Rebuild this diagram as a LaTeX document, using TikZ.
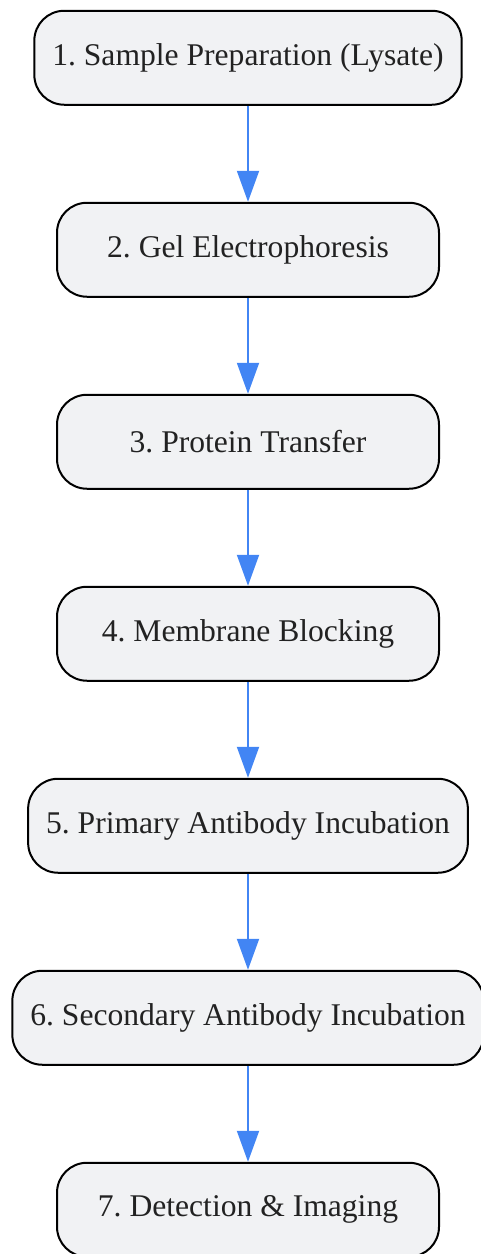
\documentclass[tikz,border=0pt]{standalone}
\usepackage{fontspec}
\setmainfont{Liberation Serif}
\frenchspacing
\usetikzlibrary{arrows.meta}
\definecolor{boxfill}{RGB}{241,242,244}
\definecolor{flowblue}{RGB}{66,133,244}
\definecolor{boxtext}{RGB}{34,34,34}
\tikzset{
  stage/.style={draw=black, line width=2pt, fill=boxfill, rounded corners=30pt,
    minimum width=382pt, minimum height=94pt, inner xsep=18pt,
    text=boxtext, font=\fontsize{31.6}{38}\selectfont},
  flow/.style={draw=flowblue, line width=2pt, -{Triangle[length=31pt,width=22pt]}}
}
\begin{document}
\begin{tikzpicture}[x=1pt,y=-1pt]
  \useasboundingbox (0,0) rectangle (481,1254);
  \node[stage] (1) at (248,57.75) {1. Sample Preparation (Lysate)};
  \node[stage] (2) at (248,249.75) {2. Gel Electrophoresis};
  \node[stage] (3) at (248,441.75) {3. Protein Transfer};
  \node[stage] (4) at (248,633.75) {4. Membrane Blocking};
  \node[stage] (5) at (248,825.75) {5. Primary Antibody Incubation};
  \node[stage] (6) at (248,1017.75) {6. Secondary Antibody Incubation};
  \node[stage] (7) at (248,1209.75) {7. Detection \& Imaging};
  % Draw the workflow steps
  \draw[flow] (1) -- (2);
  \draw[flow] (2) -- (3);
  \draw[flow] (3) -- (4);
  \draw[flow] (4) -- (5);
  \draw[flow] (5) -- (6);
  \draw[flow] (6) -- (7);
\end{tikzpicture}
\end{document}
